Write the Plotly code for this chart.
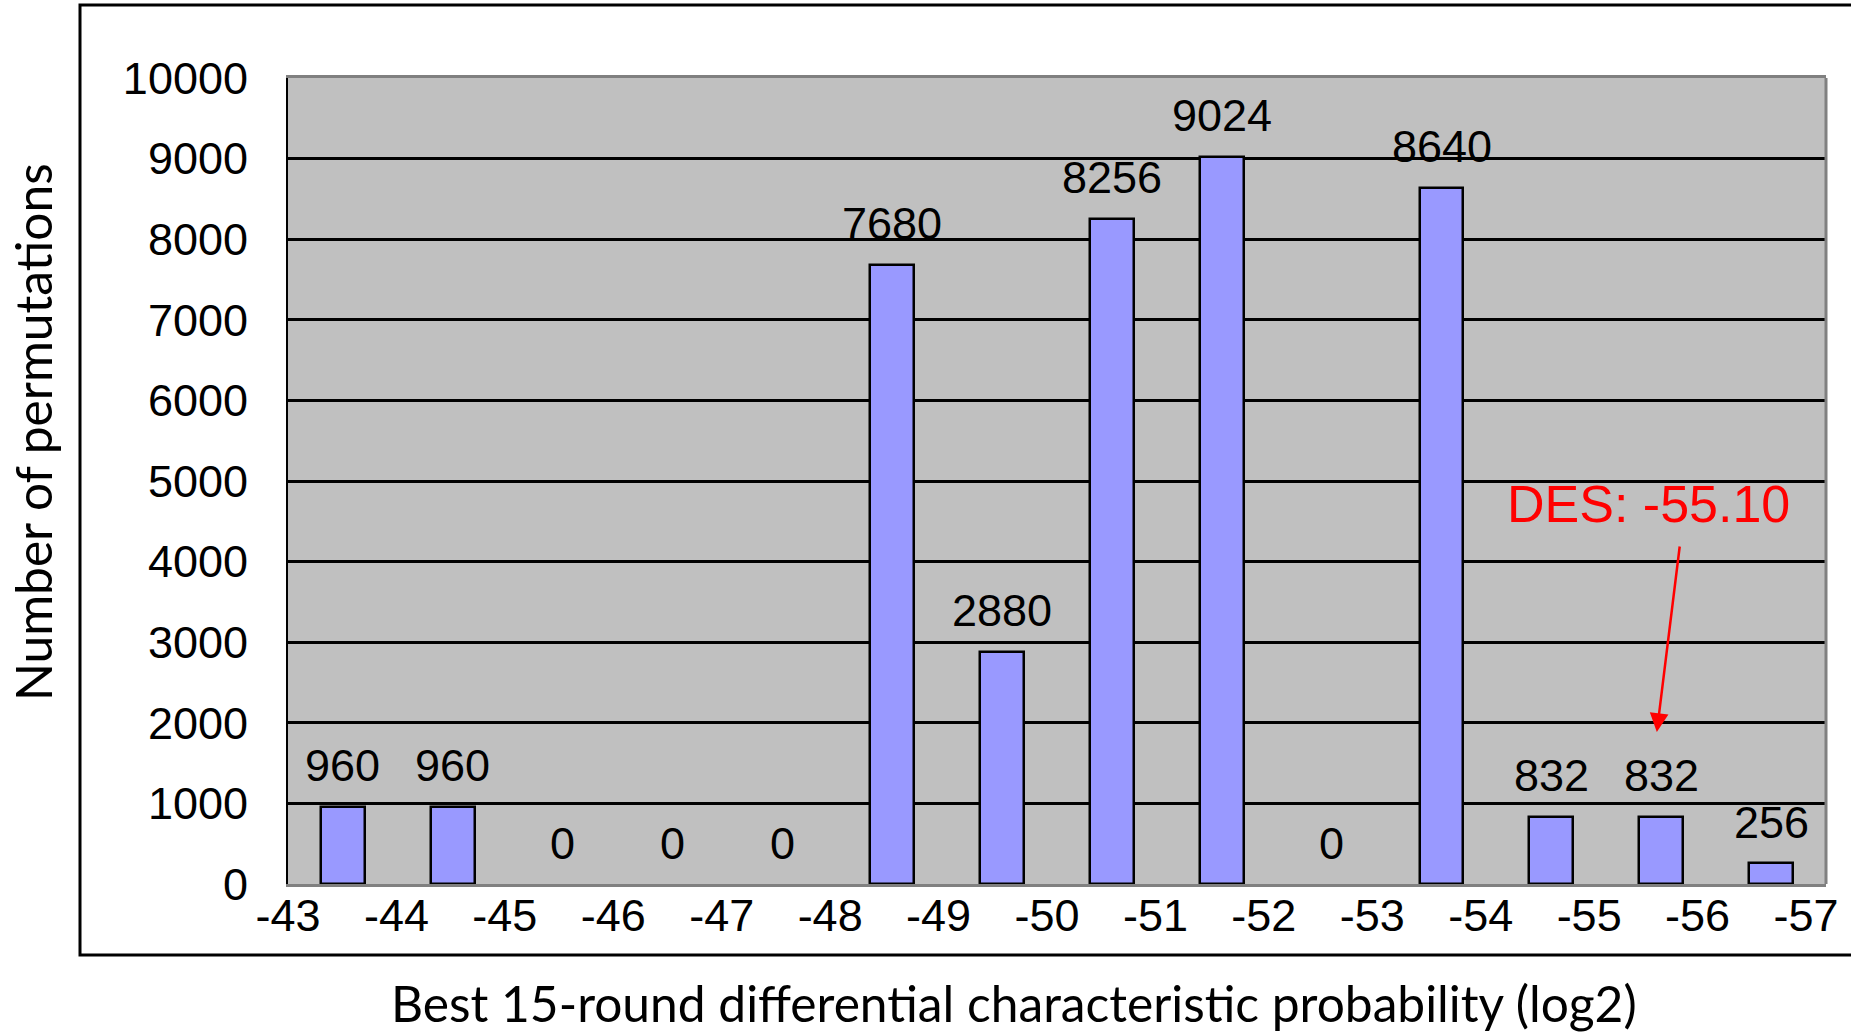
import plotly.graph_objects as go

# Data
tick_labels = ["-43", "-44", "-45", "-46", "-47", "-48", "-49", "-50",
               "-51", "-52", "-53", "-54", "-55", "-56", "-57"]
counts = [960, 960, 0, 0, 0, 7680, 2880, 8256, 9024, 0, 8640, 832, 832, 256]
y_ticks = [0, 1000, 2000, 3000, 4000, 5000, 6000, 7000, 8000, 9000, 10000]
des_label = "DES: -55.10"

W, H = 1851, 1035
ML, MR, MT, MB = 288, 25, 78, 151
pw, ph = W - ML - MR, H - MT - MB

def px_x(p):
    return (p - ML) / pw

def px_y(p):
    return (H - MB - p) / ph

n = len(counts)
bar_pos = [i + 0.5 for i in range(n)]
# the original chart's bin-edge labels are spaced slightly tighter than the bars
edge_pos = [k * 0.987 for k in range(len(tick_labels))]

fig = go.Figure()
fig.add_trace(go.Bar(
    x=bar_pos, y=counts, width=0.40,
    marker=dict(color="#9999FF",
                line=dict(color="black", width=[2.5 if v > 0 else 0 for v in counts])),
    showlegend=False, hoverinfo="skip",
))

label_font = dict(family="Liberation Sans, Arial, sans-serif", size=45, color="black")
for xp, v in zip(bar_pos, counts):
    fig.add_annotation(x=xp, y=v, text=str(v), showarrow=False,
                       yanchor="middle", xanchor="center", yshift=41,
                       font=label_font)

# DES annotation
fig.add_annotation(x=12.38, y=4715, text=des_label, showarrow=False,
                   font=dict(family="Liberation Sans, Arial, sans-serif", size=52, color="#FF0000"),
                   xanchor="center", yanchor="middle")
fig.add_annotation(x=12.46, y=1886, ax=12.67, ay=4206,
                   axref="x", ayref="y", xref="x", yref="y",
                   text="", showarrow=True, arrowhead=2, arrowsize=1.5,
                   arrowwidth=2.5, arrowcolor="#FF0000")

# axis titles
title_font = dict(family="Lato, Open Sans, sans-serif", size=49.7, color="black")
fig.add_annotation(xref="paper", yref="paper", x=px_x(1014), y=px_y(1035),
                   text="Best 15-round differential characteristic probability (log2)",
                   showarrow=False, xanchor="center", yanchor="bottom", font=title_font)
fig.add_annotation(xref="paper", yref="paper", x=px_x(33), y=px_y(432),
                   text="Number of permutations", textangle=-90,
                   showarrow=False, xanchor="center", yanchor="middle", font=title_font)

# outer frame (right side runs past the canvas)
fig.add_shape(type="rect", xref="paper", yref="paper",
              x0=px_x(80), x1=px_x(1870), y0=px_y(955), y1=px_y(5),
              line=dict(color="black", width=3), fillcolor="rgba(0,0,0,0)", layer="below")

tick_font = dict(family="Liberation Sans, Arial, sans-serif", size=45, color="black")
fig.update_xaxes(
    range=[0, n], tickmode="array", tickvals=edge_pos, ticktext=tick_labels,
    showgrid=False, zeroline=False, showline=True, linecolor="#808080", linewidth=3,
    mirror=True, ticks="", tickfont=tick_font, ticklabelstandoff=-10,
)
fig.update_yaxes(
    range=[0, 10000], tickmode="array", tickvals=y_ticks, ticktext=[str(v) for v in y_ticks],
    showgrid=True, gridcolor="black", gridwidth=3, zeroline=False,
    showline=True, linecolor="black", linewidth=2, mirror=False,
    ticks="inside", ticklen=10, tickcolor="black", tickwidth=2,
    tickfont=tick_font, ticklabelstandoff=29,
)
# right border of plot area
fig.add_shape(type="line", xref="paper", yref="paper", x0=1, x1=1, y0=0, y1=1,
              line=dict(color="#808080", width=3))

fig.update_layout(
    width=W, height=H, autosize=False,
    margin=dict(l=ML, r=MR, t=MT, b=MB, pad=0),
    plot_bgcolor="#C0C0C0", paper_bgcolor="white",
    bargap=0,
)

fig.write_html("out.html", config={"displayModeBar": False},
               post_script="document.body.style.margin='0';")
